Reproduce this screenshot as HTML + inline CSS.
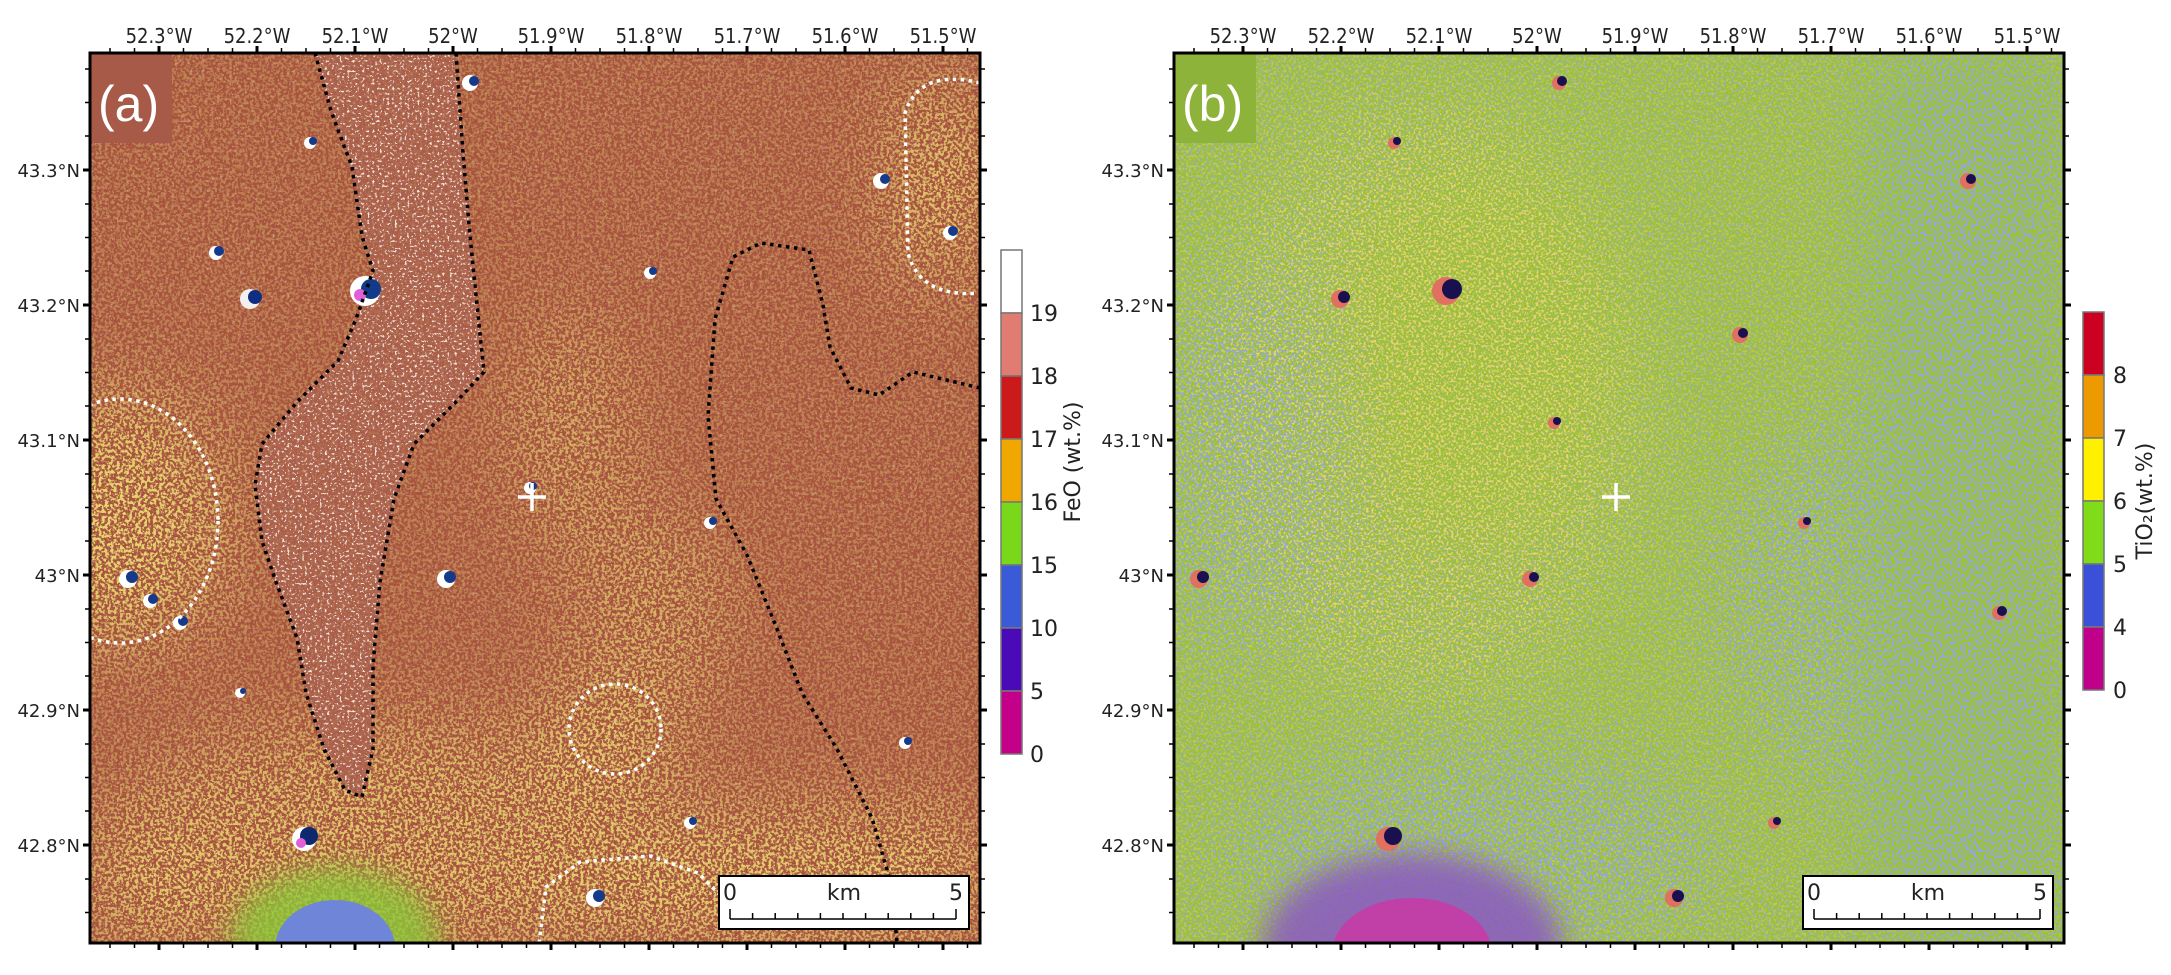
<!DOCTYPE html>
<html><head><meta charset="utf-8"><style>
html,body{margin:0;padding:0;background:#fff;width:2171px;height:975px;overflow:hidden;}
svg{display:block;}
.lon{font-family:"DejaVu Sans Condensed","DejaVu Sans",sans-serif;font-size:20px;fill:#222;text-anchor:middle;}
.lat{font-family:"DejaVu Sans",sans-serif;font-size:18px;fill:#222;text-anchor:end;}
.cb{font-family:"DejaVu Sans",sans-serif;font-size:22px;fill:#222;}
</style></head><body>
<svg width="2171" height="975" viewBox="0 0 2171 975" xmlns="http://www.w3.org/2000/svg">
<defs>
<filter id="spY" x="0" y="0" width="100%" height="100%">
 <feTurbulence type="fractalNoise" baseFrequency="0.33" numOctaves="2" seed="3"/>
 <feColorMatrix type="matrix" values="0 0 0 0 0.80 0 0 0 0 0.66 0 0 0 0 0.16 9 0 0 0 -4.2"/>
</filter>
<filter id="spW" x="0" y="0" width="100%" height="100%">
 <feTurbulence type="fractalNoise" baseFrequency="0.4" numOctaves="2" seed="11"/>
 <feColorMatrix type="matrix" values="0 0 0 0 0.88 0 0 0 0 0.78 0 0 0 0 0.78 10 0 0 0 -6.0"/>
</filter>
<filter id="spB" x="0" y="0" width="100%" height="100%">
 <feTurbulence type="fractalNoise" baseFrequency="0.38" numOctaves="2" seed="7"/>
 <feColorMatrix type="matrix" values="0 0 0 0 0.28 0 0 0 0 0.38 0 0 0 0 0.82 9 0 0 0 -4.3"/>
</filter>
<filter id="spO" x="0" y="0" width="100%" height="100%">
 <feTurbulence type="fractalNoise" baseFrequency="0.4" numOctaves="2" seed="21"/>
 <feColorMatrix type="matrix" values="0 0 0 0 0.85 0 0 0 0 0.65 0 0 0 0 0.15 9 0 0 0 -4.5"/>
</filter>
<filter id="bl" x="-50%" y="-50%" width="200%" height="200%"><feGaussianBlur stdDeviation="40"/></filter>
<filter id="bl2" x="-50%" y="-50%" width="200%" height="200%"><feGaussianBlur stdDeviation="14"/></filter>
<mask id="mA" maskUnits="userSpaceOnUse" x="0" y="0" width="890" height="890">
 <rect width="890" height="890" fill="#555"/>
 <g filter="url(#bl)">
  <ellipse cx="30" cy="468" rx="110" ry="130" fill="#fff"/>
  <rect x="0" y="760" width="890" height="130" fill="#fff"/>
  <ellipse cx="300" cy="760" rx="260" ry="90" fill="#ddd"/>
  <ellipse cx="525" cy="676" rx="70" ry="60" fill="#fff"/>
  <ellipse cx="850" cy="130" rx="50" ry="110" fill="#fff"/>
  <ellipse cx="480" cy="380" rx="60" ry="120" fill="#bbb"/>
  <ellipse cx="560" cy="560" rx="80" ry="100" fill="#bbb"/>
 </g>
 <polygon fill="#222" points="225,0 241,58 262,114 272,183 283,218 266,266 248,308 207,349 172,391 165,432 172,488 186,529 207,585 216,640 234,696 255,737 272,744 283,696 283,613 290,529 304,446 324,391 366,349 394,319 387,252 380,183 373,100 366,0"/>
</mask>
<mask id="mAw" maskUnits="userSpaceOnUse" x="0" y="0" width="890" height="890">
 <rect width="890" height="890" fill="#444"/>
 <polygon fill="#fff" points="225,0 241,58 262,114 272,183 283,218 266,266 248,308 207,349 172,391 165,432 172,488 186,529 207,585 216,640 234,696 255,737 272,744 283,696 283,613 290,529 304,446 324,391 366,349 394,319 387,252 380,183 373,100 366,0"/>
</mask>
<mask id="mB" maskUnits="userSpaceOnUse" x="0" y="0" width="890" height="890">
 <rect width="890" height="890" fill="#777"/>
 <g filter="url(#bl)">
  <rect x="700" y="0" width="190" height="890" fill="#fff"/>
  <ellipse cx="720" cy="550" rx="180" ry="200" fill="#eee"/>
  <ellipse cx="60" cy="420" rx="90" ry="200" fill="#ddd"/>
  <ellipse cx="300" cy="800" rx="250" ry="110" fill="#fff"/>
  <ellipse cx="300" cy="300" rx="150" ry="200" fill="#333"/>
 </g>
</mask>
<mask id="mBo" maskUnits="userSpaceOnUse" x="0" y="0" width="890" height="890">
 <rect width="890" height="890" fill="#777"/>
 <g filter="url(#bl)">
  <ellipse cx="250" cy="350" rx="220" ry="300" fill="#fff"/>
  <rect x="700" y="0" width="190" height="890" fill="#000"/>
 </g>
</mask>
</defs>

<!-- ===== PANEL A ===== -->
<svg x="90" y="53" width="890" height="890" viewBox="0 0 890 890">
 <rect width="890" height="890" fill="#a64f3a"/>
 <rect width="890" height="890" fill="#b28070" mask="url(#mAw)" opacity="0.3"/>
 <rect width="890" height="890" filter="url(#spW)" mask="url(#mAw)"/>
 <rect width="890" height="890" filter="url(#spY)" mask="url(#mA)"/>
 <g filter="url(#bl2)">
  <ellipse cx="245" cy="890" rx="105" ry="75" fill="#8cc83a" opacity="0.8"/>
 </g>
 <ellipse cx="245" cy="895" rx="60" ry="48" fill="#6f86d8"/>
 <g>
  <circle cx="275" cy="238" r="15" fill="#fff"/><circle cx="281" cy="236" r="10" fill="#123a8a"/><circle cx="270" cy="242" r="6" fill="#e060d8"/>
  <circle cx="160" cy="246" r="10" fill="#f4f0f0"/><circle cx="165" cy="244" r="7" fill="#102e80"/>
  <circle cx="214" cy="786" r="12" fill="#fff"/><circle cx="219" cy="783" r="9" fill="#0e2870"/><circle cx="211" cy="790" r="5" fill="#e060d8"/>
  <circle cx="356" cy="526" r="9" fill="#fff"/><circle cx="360" cy="524" r="6" fill="#163a8a"/>
  <circle cx="791" cy="128" r="8" fill="#fff"/><circle cx="795" cy="126" r="5" fill="#163a8a"/>
  <circle cx="38" cy="526" r="9" fill="#fff"/><circle cx="42" cy="524" r="6" fill="#163a8a"/>
  <circle cx="60" cy="548" r="7" fill="#fff"/><circle cx="63" cy="546" r="5" fill="#163a8a"/>
  <circle cx="90" cy="570" r="7" fill="#fff"/><circle cx="93" cy="568" r="5" fill="#163a8a"/>
  <circle cx="126" cy="200" r="7" fill="#fff"/><circle cx="129" cy="198" r="5" fill="#163a8a"/>
  <circle cx="220" cy="90" r="6" fill="#fff"/><circle cx="223" cy="88" r="4" fill="#163a8a"/>
  <circle cx="380" cy="30" r="8" fill="#fff"/><circle cx="384" cy="28" r="5" fill="#163a8a"/>
  <circle cx="560" cy="220" r="6" fill="#fff"/><circle cx="563" cy="218" r="4" fill="#163a8a"/>
  <circle cx="505" cy="845" r="9" fill="#fff"/><circle cx="509" cy="843" r="6" fill="#163a8a"/>
  <circle cx="860" cy="180" r="7" fill="#fff"/><circle cx="863" cy="178" r="5" fill="#163a8a"/>
  <circle cx="440" cy="435" r="6" fill="#fff"/><circle cx="443" cy="433" r="4" fill="#163a8a"/>
  <circle cx="620" cy="470" r="6" fill="#fff"/><circle cx="623" cy="468" r="4" fill="#163a8a"/>
  <circle cx="815" cy="690" r="6" fill="#fff"/><circle cx="818" cy="688" r="4" fill="#163a8a"/>
  <circle cx="600" cy="770" r="6" fill="#fff"/><circle cx="603" cy="768" r="4" fill="#163a8a"/>
  <circle cx="150" cy="640" r="5" fill="#fff"/><circle cx="153" cy="638" r="3" fill="#163a8a"/>
 </g>
 <polyline fill="none" stroke="#000" stroke-width="3.5" stroke-dasharray="3.5 4.5" points="225,0 241,58 262,114 272,183 283,218 266,266 248,308 207,349 172,391 165,432 172,488 186,529 207,585 216,640 234,696 255,737 272,744 283,696 283,613 290,529 304,446 324,391 366,349 394,319 387,252 380,183 373,100 366,0"/>
 <polyline fill="none" stroke="#000" stroke-width="3.5" stroke-dasharray="3.5 4.5" points="890,335 823,319 789,342 761,335 740,294 733,252 719,197 671,190 643,204 625,266 618,363 626,446 657,502 685,571 712,640 747,696 782,765 802,834 807,890"/>
 <g fill="none" stroke="#fff" stroke-width="3.5" stroke-dasharray="3.5 4.5">
  <ellipse cx="30" cy="468" rx="98" ry="122"/>
  <path d="M890,30 Q830,15 815,60 L818,200 Q830,245 890,240"/>
  <ellipse cx="525" cy="676" rx="46" ry="45"/>
  <polyline points="449,890 456,834 490,809 560,803 608,820 629,841"/>
 </g>
 <path d="M428,444 L456,444 M442,430 L442,458" stroke="#fff" stroke-width="3.5"/>
 <rect x="0" y="0" width="82" height="90" fill="#a85a48"/>
 <text x="8" y="68" font-family="Liberation Sans, sans-serif" font-size="50" fill="#fff">(a)</text>
 <rect x="629" y="823" width="250" height="53" fill="#fff" stroke="#000" stroke-width="2"/>
 <text x="640" y="847" class="cb" font-size="19" text-anchor="middle">0</text>
 <text x="754" y="847" class="cb" font-size="19" text-anchor="middle">km</text>
 <text x="866" y="847" class="cb" font-size="19" text-anchor="middle">5</text>
 <path d="M640,866 H866 M640,856 V866 M662.6,860 V866 M685.2,860 V866 M707.8,860 V866 M730.4,860 V866 M753,860 V866 M775.6,860 V866 M798.2,860 V866 M820.8,860 V866 M843.4,860 V866 M866,856 V866" stroke="#000" stroke-width="1.5" fill="none"/>
</svg>
<rect x="90" y="53" width="890" height="890" fill="none" stroke="#000" stroke-width="3"/>

<!-- ===== PANEL B ===== -->
<svg x="1174" y="53" width="890" height="890" viewBox="0 0 890 890">
 <rect width="890" height="890" fill="#9cc232"/>
 <rect width="890" height="890" filter="url(#spO)" mask="url(#mBo)"/>
 <rect width="890" height="890" filter="url(#spB)" mask="url(#mB)"/>
 <g filter="url(#bl2)">
  <ellipse cx="238" cy="895" rx="150" ry="95" fill="#8a5ac0" opacity="0.85"/>
 </g>
 <ellipse cx="238" cy="900" rx="80" ry="55" fill="#c040a8"/>
 <g>
  <circle cx="272" cy="238" r="14" fill="#e07060"/><circle cx="278" cy="236" r="10" fill="#1a1050"/>
  <circle cx="214" cy="786" r="12" fill="#e07060"/><circle cx="219" cy="783" r="9" fill="#1a1050"/>
  <circle cx="166" cy="246" r="9" fill="#e07060"/><circle cx="170" cy="244" r="6" fill="#1a1050"/>
  <circle cx="566" cy="282" r="8" fill="#e07060"/><circle cx="569" cy="280" r="5" fill="#1a1050"/>
  <circle cx="794" cy="128" r="8" fill="#e07060"/><circle cx="797" cy="126" r="5" fill="#1a1050"/>
  <circle cx="25" cy="526" r="9" fill="#e07060"/><circle cx="29" cy="524" r="6" fill="#1a1050"/>
  <circle cx="356" cy="526" r="8" fill="#e07060"/><circle cx="360" cy="524" r="5" fill="#1a1050"/>
  <circle cx="385" cy="30" r="7" fill="#e07060"/><circle cx="388" cy="28" r="5" fill="#1a1050"/>
  <circle cx="220" cy="90" r="6" fill="#e07060"/><circle cx="223" cy="88" r="4" fill="#1a1050"/>
  <circle cx="500" cy="845" r="9" fill="#e07060"/><circle cx="504" cy="843" r="6" fill="#1a1050"/>
  <circle cx="825" cy="560" r="7" fill="#e07060"/><circle cx="828" cy="558" r="5" fill="#1a1050"/>
  <circle cx="630" cy="470" r="6" fill="#e07060"/><circle cx="633" cy="468" r="4" fill="#1a1050"/>
  <circle cx="380" cy="370" r="6" fill="#e07060"/><circle cx="383" cy="368" r="4" fill="#1a1050"/>
  <circle cx="600" cy="770" r="6" fill="#e07060"/><circle cx="603" cy="768" r="4" fill="#1a1050"/>
 </g>
 <path d="M428,444 L456,444 M442,430 L442,458" stroke="#fff" stroke-width="3.5"/>
 <rect x="0" y="0" width="82" height="90" fill="#8db33a"/>
 <text x="8" y="68" font-family="Liberation Sans, sans-serif" font-size="50" fill="#fff">(b)</text>
 <rect x="629" y="823" width="250" height="53" fill="#fff" stroke="#000" stroke-width="2"/>
 <text x="640" y="847" class="cb" font-size="19" text-anchor="middle">0</text>
 <text x="754" y="847" class="cb" font-size="19" text-anchor="middle">km</text>
 <text x="866" y="847" class="cb" font-size="19" text-anchor="middle">5</text>
 <path d="M640,866 H866 M640,856 V866 M662.6,860 V866 M685.2,860 V866 M707.8,860 V866 M730.4,860 V866 M753,860 V866 M775.6,860 V866 M798.2,860 V866 M820.8,860 V866 M843.4,860 V866 M866,856 V866" stroke="#000" stroke-width="1.5" fill="none"/>
</svg>
<rect x="1174" y="53" width="890" height="890" fill="none" stroke="#000" stroke-width="3"/>

<g id="ticksA" stroke="#000" fill="none">
 <path stroke-width="3" d="M159,53v-7M257,53v-7M355,53v-7M453,53v-7M551,53v-7M649,53v-7M747,53v-7M845,53v-7M943,53v-7
 M159,943v7M257,943v7M355,943v7M453,943v7M551,943v7M649,943v7M747,943v7M845,943v7M943,943v7
 M90,170h-7M90,305h-7M90,440h-7M90,575h-7M90,710h-7M90,845h-7
 M980,170h7M980,305h7M980,440h7M980,575h7M980,710h7M980,845h7"/>
 <path stroke-width="1.5" d="M110,53v-5M134.5,53v-5M183.5,53v-5M208,53v-5M232.5,53v-5M281.5,53v-5M306,53v-5M330.5,53v-5M379.5,53v-5M404,53v-5M428.5,53v-5M477.5,53v-5M502,53v-5M526.5,53v-5M575.5,53v-5M600,53v-5M624.5,53v-5M673.5,53v-5M698,53v-5M722.5,53v-5M771.5,53v-5M796,53v-5M820.5,53v-5M869.5,53v-5M894,53v-5M918.5,53v-5M967.5,53v-5
 M110,943v5M134.5,943v5M183.5,943v5M208,943v5M232.5,943v5M281.5,943v5M306,943v5M330.5,943v5M379.5,943v5M404,943v5M428.5,943v5M477.5,943v5M502,943v5M526.5,943v5M575.5,943v5M600,943v5M624.5,943v5M673.5,943v5M698,943v5M722.5,943v5M771.5,943v5M796,943v5M820.5,943v5M869.5,943v5M894,943v5M918.5,943v5M967.5,943v5
 M90,69h-5M90,102.5h-5M90,136h-5M90,204h-5M90,237.5h-5M90,271h-5M90,339h-5M90,372.5h-5M90,406h-5M90,474h-5M90,507.5h-5M90,541h-5M90,609h-5M90,642.5h-5M90,676h-5M90,744h-5M90,777.5h-5M90,811h-5M90,879h-5M90,912.5h-5
 M980,69h5M980,102.5h5M980,136h5M980,204h5M980,237.5h5M980,271h5M980,339h5M980,372.5h5M980,406h5M980,474h5M980,507.5h5M980,541h5M980,609h5M980,642.5h5M980,676h5M980,744h5M980,777.5h5M980,811h5M980,879h5M980,912.5h5"/>
</g>
<use href="#ticksA" x="1084"/>

<g class="lon">
 <text x="159" y="43">52.3°W</text><text x="257" y="43">52.2°W</text><text x="355" y="43">52.1°W</text><text x="453" y="43">52°W</text><text x="551" y="43">51.9°W</text><text x="649" y="43">51.8°W</text><text x="747" y="43">51.7°W</text><text x="845" y="43">51.6°W</text><text x="943" y="43">51.5°W</text>
 <text x="1243" y="43">52.3°W</text><text x="1341" y="43">52.2°W</text><text x="1439" y="43">52.1°W</text><text x="1537" y="43">52°W</text><text x="1635" y="43">51.9°W</text><text x="1733" y="43">51.8°W</text><text x="1831" y="43">51.7°W</text><text x="1929" y="43">51.6°W</text><text x="2027" y="43">51.5°W</text>
</g>
<g class="lat">
 <text x="80" y="177">43.3°N</text><text x="80" y="312">43.2°N</text><text x="80" y="447">43.1°N</text><text x="80" y="582">43°N</text><text x="80" y="717">42.9°N</text><text x="80" y="852">42.8°N</text>
 <text x="1164" y="177">43.3°N</text><text x="1164" y="312">43.2°N</text><text x="1164" y="447">43.1°N</text><text x="1164" y="582">43°N</text><text x="1164" y="717">42.9°N</text><text x="1164" y="852">42.8°N</text>
</g>

<g stroke="#777" stroke-width="1.5">
 <rect x="1001" y="250" width="21" height="63" fill="#ffffff"/>
 <rect x="1001" y="313" width="21" height="63" fill="#e07c72"/>
 <rect x="1001" y="376" width="21" height="63" fill="#cc1a1a"/>
 <rect x="1001" y="439" width="21" height="63" fill="#f0a800"/>
 <rect x="1001" y="502" width="21" height="63" fill="#7ad81a"/>
 <rect x="1001" y="565" width="21" height="63" fill="#3a5ad8"/>
 <rect x="1001" y="628" width="21" height="63" fill="#4a0ab8"/>
 <rect x="1001" y="691" width="21" height="63" fill="#c4008a"/>
</g>
<g class="cb">
 <text x="1030" y="321">19</text><text x="1030" y="384">18</text><text x="1030" y="447">17</text><text x="1030" y="510">16</text><text x="1030" y="573">15</text><text x="1030" y="636">10</text><text x="1030" y="699">5</text><text x="1030" y="762">0</text>
</g>
<text class="cb" transform="translate(1080,462) rotate(-90)" text-anchor="middle">FeO (wt.%)</text>

<g stroke="#777" stroke-width="1.5">
 <rect x="2083" y="312" width="21" height="63" fill="#cc0020"/>
 <rect x="2083" y="375" width="21" height="63" fill="#ec9a00"/>
 <rect x="2083" y="438" width="21" height="63" fill="#fff000"/>
 <rect x="2083" y="501" width="21" height="63" fill="#80dc18"/>
 <rect x="2083" y="564" width="21" height="63" fill="#3a50d8"/>
 <rect x="2083" y="627" width="21" height="63" fill="#c0008a"/>
</g>
<g class="cb">
 <text x="2113" y="383">8</text><text x="2113" y="446">7</text><text x="2113" y="509">6</text><text x="2113" y="572">5</text><text x="2113" y="635">4</text><text x="2113" y="698">0</text>
</g>
<text class="cb" transform="translate(2152,501) rotate(-90)" text-anchor="middle">TiO₂(wt.%)</text>
</svg>
</body></html>
